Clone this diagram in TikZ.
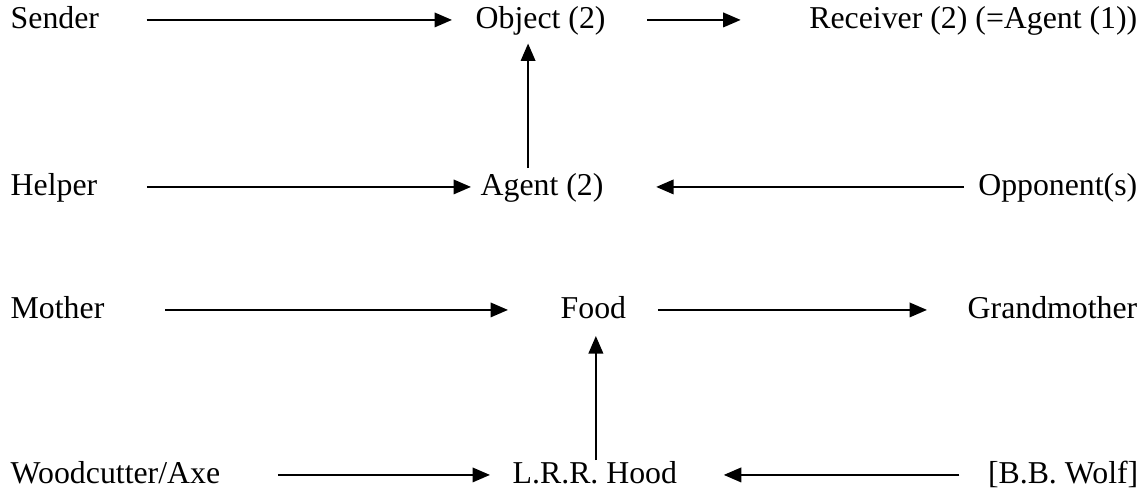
\documentclass[tikz,border=0pt]{standalone}
\usepackage{fontspec}
\setmainfont{Liberation Serif}
\usetikzlibrary{arrows.meta}

\tikzset{
  role/.style={inner sep=0pt, font=\fontsize{9.05}{11}\selectfont},
  link/.style={-{Triangle[length=1.75mm,width=1.45mm]}, line width=0.6pt}
}

\begin{document}
\begin{tikzpicture}
\useasboundingbox (0,0) rectangle (11.45,4.9);

% actant model
\node[role,anchor=base west] (sender) at(0.10,4.62){Sender};
\node[role,anchor=base west] (object) at(4.75,4.62){Object (2)};
\node[role,anchor=base east] (receiver) at(11.38,4.62){Receiver (2) (=Agent (1))};

\node[role,anchor=base west] (helper) at(0.10,2.95){Helper};
\node[role,anchor=base west] (agent) at(4.80,2.95){Agent (2)};
\node[role,anchor=base east] (opponent) at(11.38,2.95){Opponent(s)};

% the tale
\node[role,anchor=base west] (mother) at(0.10,1.72){Mother};
\node[role,anchor=base west] (food) at(5.60,1.72){Food};
\node[role,anchor=base east] (granny) at(11.38,1.72){Grandmother};

\node[role,anchor=base west] (cutter) at(0.10,0.07){Woodcutter/Axe};
\node[role,anchor=base west] (hood) at(5.12,0.07){L.R.R. Hood};
\node[role,anchor=base east] (wolf) at(11.39,0.07){[B.B. Wolf]};

\draw[link,shorten <=4.7mm,shorten >=2.3mm] (sender.mid east) -- (object.mid west);
\draw[link,shorten <=4.1mm,shorten >=6.8mm] (object.mid east) -- (receiver.mid west);
\draw[link,shorten <=4.9mm,shorten >=0.9mm] (helper.mid east) -- (agent.mid west);
\draw[link,shorten <=1.4mm,shorten >=5.2mm] (opponent.mid west) -- (agent.mid east);
\draw[link,shorten <=0.4mm,shorten >=0.8mm] ([xshift=-1.4mm]agent.north) -- ([xshift=-1.4mm]agent.north |- object.south);

\draw[link,shorten <=6.0mm,shorten >=5.2mm] (mother.mid east) -- (food.mid west);
\draw[link,shorten <=3.1mm,shorten >=4.0mm] (food.mid east) -- (granny.mid west);
\draw[link,shorten <=5.7mm,shorten >=2.2mm] (cutter.mid east) -- (hood.mid west);
\draw[link,shorten <=2.8mm,shorten >=4.6mm] (wolf.mid west) -- (hood.mid east);
\draw[link,shorten >=1.7mm] ([xshift=0.1mm]hood.north) -- ([xshift=0.1mm]hood.north |- food.south);

\end{tikzpicture}
\end{document}
